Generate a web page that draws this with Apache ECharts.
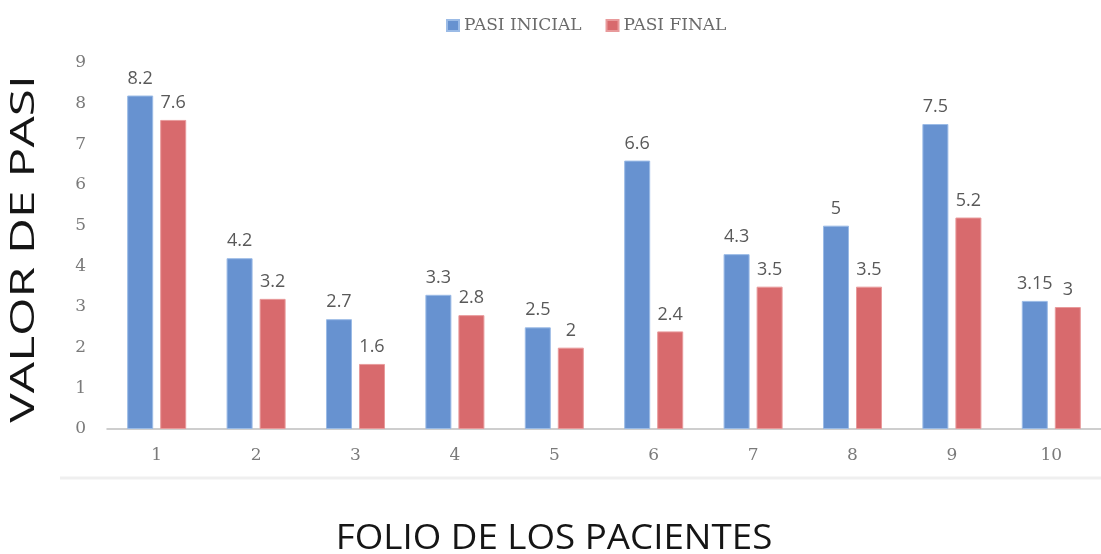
<!DOCTYPE html>
<html>
<head>
<meta charset="utf-8">
<script src="https://cdn.jsdelivr.net/npm/echarts@6/dist/echarts.min.js"></script>
<style>html,body{margin:0;padding:0;background:#fff;}#c{width:1101px;height:554px;}</style>
</head>
<body>
<div id="c"></div>
<script>
const categories = ['1','2','3','4','5','6','7','8','9','10'];
const pasiInicial = [8.2, 4.2, 2.7, 3.3, 2.5, 6.6, 4.3, 5, 7.5, 3.15];
const pasiFinal = [7.6, 3.2, 1.6, 2.8, 2, 2.4, 3.5, 3.5, 5.2, 3];
const seriesNames = ['PASI INICIAL', 'PASI FINAL'];
const yTitle = 'VALOR DE PASI';
const xTitle = 'FOLIO DE LOS PACIENTES';

const chart = echarts.init(document.getElementById('c'), null, {renderer: 'canvas'});
const labelStyle = {show: true, position: 'top', distance: 8, fontFamily: 'Open Sans', fontSize: 18, color: '#595959'};
chart.setOption({
  animation: false,
  backgroundColor: '#ffffff',
  legend: {
    top: 12, left: 441,
    itemWidth: 12, itemHeight: 11, itemGap: 24,
    icon: 'rect',
    textStyle: {fontFamily: 'DejaVu Serif', fontSize: 17, color: '#6a6a6a'},
    data: seriesNames
  },
  grid: {left: 107, top: 63, width: 999, height: 366},
  xAxis: {
    type: 'category', data: categories,
    axisLine: {lineStyle: {color: '#bfbfbf', width: 1.5}},
    axisTick: {show: false},
    axisLabel: {fontFamily: 'DejaVu Serif', fontSize: 17, color: '#7a7a7a', margin: 18}
  },
  yAxis: {
    type: 'value', min: 0, max: 9, interval: 1,
    axisLine: {show: false}, axisTick: {show: false},
    splitLine: {show: false},
    axisLabel: {fontFamily: 'DejaVu Serif', fontSize: 17, color: '#7a7a7a', margin: 21}
  },
  graphic: [
    {type: 'line', shape: {x1: 60, y1: 478, x2: 1101, y2: 478}, style: {stroke: '#efefef', lineWidth: 3}, silent: true},
    {type: 'text', x: 25, y: 249, rotation: Math.PI / 2, scaleX: 1.55, scaleY: 1,
      style: {text: yTitle, font: '32px "Open Sans"', fill: '#151515', align: 'center', verticalAlign: 'middle'}},
    {type: 'text', x: 554, y: 539, scaleX: 1.08, scaleY: 1,
      style: {text: xTitle, font: '34px "Open Sans"', fill: '#151515', align: 'center', verticalAlign: 'middle'}}
  ],
  series: [
    {name: seriesNames[0], type: 'bar', data: pasiInicial, barWidth: 26, barGap: '27%',
      itemStyle: {color: '#6792d0', borderColor: '#9bbbe6', borderWidth: 1},
      label: labelStyle},
    {name: seriesNames[1], type: 'bar', data: pasiFinal, barWidth: 26, barGap: '27%',
      itemStyle: {color: '#d86a6d', borderColor: '#e89a9b', borderWidth: 1},
      label: labelStyle}
  ]
});
</script>
</body>
</html>
